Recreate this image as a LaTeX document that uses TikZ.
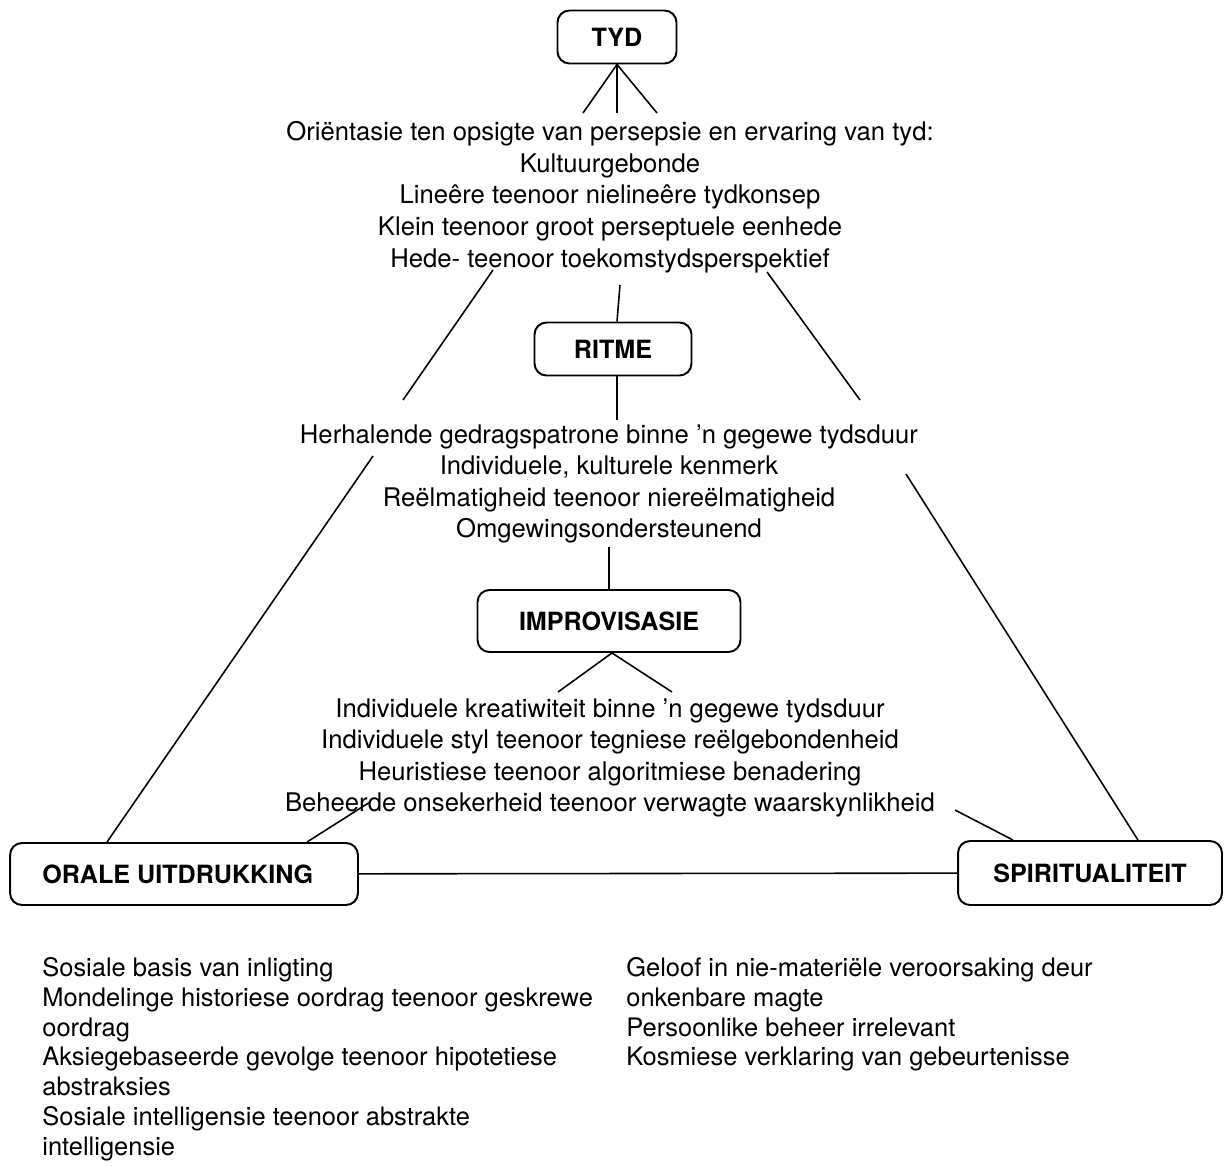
\documentclass[tikz,border=0pt]{standalone}
\usepackage{fontspec}
\setmainfont{TeX Gyre Heros}
\usetikzlibrary{positioning}

\begin{document}
\begin{tikzpicture}[
  x=0.02cm, y=-0.02cm,
  box/.style={draw, rounded corners=0.24cm, line width=1.1pt, font=\fontsize{14.3}{17}\selectfont\bfseries},
  txt/.style={inner sep=0pt, align=center, font=\fontsize{14.6}{18}\selectfont},
  lst/.style={inner sep=0pt, align=left, font=\fontsize{14.5}{17}\selectfont},
  every edge/.style={draw, line width=0.9pt}
]
\useasboundingbox (0,0) rectangle (1224,1166);

% boxes
\node[box, minimum width=2.38cm, minimum height=1.06cm] (tyd) at (617,37) {TYD};
\node[box, minimum width=3.14cm, minimum height=1.06cm] (ritme) at (613,349) {RITME};
\node[box, minimum width=5.26cm, minimum height=1.24cm] (impro) at (609,621) {IMPROVISASIE};
\node[box, minimum width=6.96cm, minimum height=1.24cm] (orale) at (184,874) {\hspace*{-0.25cm}ORALE UITDRUKKING};
\node[box, minimum width=5.28cm, minimum height=1.28cm] (spirit) at (1090,873) {SPIRITUALITEIT};

% texts
\node[txt, anchor=north] (tydtxt) at (610,121) {Oriëntasie ten opsigte van persepsie en ervaring van tyd:\\
  Kultuurgebonde\\ Lineêre teenoor nielineêre tydkonsep\\
  Klein teenoor groot perseptuele eenhede\\ Hede- teenoor toekomstydsperspektief};
\node[txt, anchor=north] (ritmetxt) at (609,424) {Herhalende gedragspatrone binne ’n gegewe tydsduur\\
  Individuele, kulturele kenmerk\\ Reëlmatigheid teenoor niereëlmatigheid\\ Omgewingsondersteunend};
\node[txt, anchor=north] (improtxt) at (610,698) {Individuele kreatiwiteit binne ’n gegewe tydsduur\\
  Individuele styl teenoor tegniese reëlgebondenheid\\ Heuristiese teenoor algoritmiese benadering\\
  Beheerde onsekerheid teenoor verwagte waarskynlikheid};
\node[lst, anchor=north west] (oraletxt) at (42,957) {Sosiale basis van inligting\\
  Mondelinge historiese oordrag teenoor geskrewe\\ oordrag\\
  Aksiegebaseerde gevolge teenoor hipotetiese\\ abstraksies\\
  Sosiale intelligensie teenoor abstrakte\\ intelligensie};
\node[lst, anchor=north west] (spirittxt) at (626,957) {Geloof in nie-materiële veroorsaking deur\\
  onkenbare magte\\ Persoonlike beheer irrelevant\\ Kosmiese verklaring van gebeurtenisse};

% loose ends
\coordinate (t1) at (583,113);
\coordinate (t2) at (617,113);
\coordinate (t3) at (657,113);
\coordinate (t4) at (620,285);
\coordinate (r1) at (617,420);
\coordinate (r2) at (609,547);
\coordinate (i1) at (558,692);
\coordinate (i2) at (672,692);
\coordinate (la) at (493,270);
\coordinate (lb) at (403,400);
\coordinate (lc) at (373,456);
\coordinate (ra) at (767,272);
\coordinate (rb) at (860,400);
\coordinate (rc) at (906,474);
\coordinate (ob) at (370,802);
\coordinate (sb) at (955,810);

\path
% centre column
(tyd.south) edge (t1)
(tyd.south) edge (t2)
(tyd.south) edge (t3)
(t4) edge (ritme.north -| t2)
(ritme.south -| r1) edge (r1)
(r2) edge (impro.north -| r2)
(impro.south -| 612,0) edge (i1)
(impro.south -| 612,0) edge (i2)

% sides
(la) edge (lb)
(ra) edge (rb)
(lc) edge (orale.north -| 107,0)
(rc) edge (spirit.north -| 1138,0)
(ob) edge (orale.north -| 307,0)
(sb) edge (spirit.north -| 1013,0)
(orale) edge (spirit)
;

\end{tikzpicture}
\end{document}
